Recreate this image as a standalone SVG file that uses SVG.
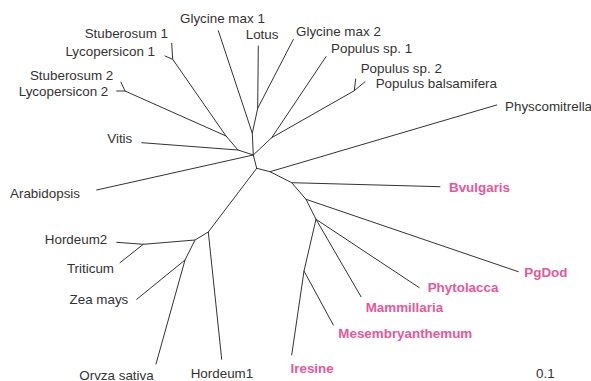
<svg xmlns="http://www.w3.org/2000/svg" width="591" height="381" viewBox="0 0 591 381">
<style>
.br{stroke:#333;stroke-width:1;fill:none;stroke-linecap:round;stroke-linejoin:round}
.t{font-family:"Liberation Sans",Arial,sans-serif;font-size:13.4px;fill:#333}
.p{font-family:"Liberation Sans",Arial,sans-serif;font-size:13.4px;font-weight:bold;fill:#e8579a}
.e{text-anchor:end}
</style>
<rect width="591" height="381" fill="#fff"/>
<g id="connectors" class="br">
<!-- upper-left clade -->
<polyline points="253.3,155 238,150 141.7,142.7"/>
<polyline points="238,150 226,136 172.7,59.3 171.7,43.3"/>
<line x1="172.7" y1="59.3" x2="165" y2="56"/>
<polyline points="226,136 125,91 121,82.3"/>
<line x1="125" y1="91" x2="116.7" y2="91"/>
<line x1="253.3" y1="155" x2="96.7" y2="190"/>
<!-- legumes -->
<polyline points="253.3,155 252.3,133.3 218.3,30.7"/>
<polyline points="252.3,133.3 257.7,108.3 258.3,46"/>
<line x1="257.7" y1="108.3" x2="293.3" y2="39.5"/>
<!-- populus -->
<polyline points="253.3,155 271.7,137.7 326,56.7"/>
<polyline points="271.7,137.7 354.3,90.7 355.7,79"/>
<line x1="354.3" y1="90.7" x2="365" y2="81.7"/>
<!-- down -->
<polyline points="253.3,155 256.7,168.3 270,171.7 496.7,105"/>
<polyline points="270,171.7 291.7,182.7 440,186.7"/>
<polyline points="291.7,182.7 306,199.3 518.3,271.7"/>
<polyline points="306,199.3 316,219.3 419.3,287.7"/>
<line x1="316" y1="219.3" x2="361" y2="296.7"/>
<polyline points="316,219.3 304,271 291.7,355"/>
<line x1="304" y1="271" x2="333.3" y2="325"/>
<!-- monocots -->
<polyline points="256.7,168.3 208.3,232 221.7,359.3"/>
<polyline points="208.3,232 195,240 143.3,244.3 116.7,242.3"/>
<line x1="143.3" y1="244.3" x2="120" y2="262.7"/>
<polyline points="195,240 185,260 156,364"/>
<line x1="185" y1="260" x2="136.7" y2="299.3"/>
</g>
<g id="n-glycine1"><text class="t" x="180" y="22.5">Glycine max 1</text></g>
<g id="n-stuberosum1"><text class="t e" x="168" y="37.5">Stuberosum 1</text></g>
<g id="n-lotus"><text class="t" x="245.7" y="39">Lotus</text></g>
<g id="n-glycine2"><text class="t" x="296" y="36">Glycine max 2</text></g>
<g id="n-lycopersicon1"><text class="t e" x="155" y="56">Lycopersicon 1</text></g>
<g id="n-populus1"><text class="t" x="331" y="53.3">Populus sp. 1</text></g>
<g id="n-stuberosum2"><text class="t e" x="113.3" y="80">Stuberosum 2</text></g>
<g id="n-lycopersicon2"><text class="t e" x="108.3" y="95.5">Lycopersicon 2</text></g>
<g id="n-populus2"><text class="t" x="360.7" y="72.7">Populus sp. 2</text></g>
<g id="n-populusb"><text class="t" x="375.7" y="88.3">Populus balsamifera</text></g>
<g id="n-physcomitrella"><text class="t" x="505" y="111">Physcomitrella</text></g>
<g id="n-vitis"><text class="t e" x="132.3" y="143.3">Vitis</text></g>
<g id="n-arabidopsis"><text class="t e" x="80" y="198">Arabidopsis</text></g>
<g id="n-bvulgaris"><text class="p" x="449" y="192">Bvulgaris</text></g>
<g id="n-hordeum2"><text class="t e" x="107.3" y="244">Hordeum2</text></g>
<g id="n-triticum"><text class="t e" x="114" y="273.3">Triticum</text></g>
<g id="n-pgdod"><text class="p" x="524.3" y="276.7">PgDod</text></g>
<g id="n-phytolacca"><text class="p" x="427.7" y="291.7">Phytolacca</text></g>
<g id="n-zeamays"><text class="t e" x="128.3" y="304.3">Zea mays</text></g>
<g id="n-mammillaria"><text class="p" x="365.7" y="312.3">Mammillaria</text></g>
<g id="n-mesembryanthemum"><text class="p" x="338.3" y="337.7">Mesembryanthemum</text></g>
<g id="n-iresine"><text class="p" x="290.5" y="372.7">Iresine</text></g>
<g id="n-orvza"><text class="t" x="79.3" y="379.5">Orvza sativa</text></g>
<g id="n-hordeum1"><text class="t" x="190.7" y="378.3">Hordeum1</text></g>
<g id="scale"><text class="t" x="536" y="378.3">0.1</text></g>
</svg>
